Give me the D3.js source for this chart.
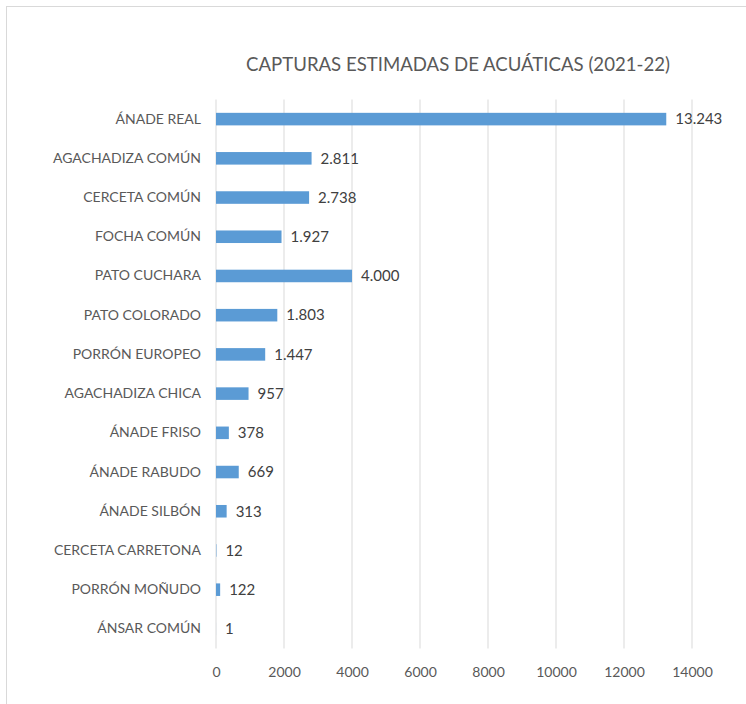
<!DOCTYPE html>
<html><head><meta charset="utf-8">
<script src="https://cdn.jsdelivr.net/npm/d3@7"></script>
<style>body{margin:0;background:#fff;}svg{display:block;}</style>
</head><body>
<svg id="c" width="746" height="704"></svg>
<script>
const categories = ["ÁNADE REAL","AGACHADIZA COMÚN","CERCETA COMÚN","FOCHA COMÚN","PATO CUCHARA","PATO COLORADO","PORRÓN EUROPEO","AGACHADIZA CHICA","ÁNADE FRISO","ÁNADE RABUDO","ÁNADE SILBÓN","CERCETA CARRETONA","PORRÓN MOÑUDO","ÁNSAR COMÚN"];
const values = [13243,2811,2738,1927,4000,1803,1447,957,378,669,313,12,122,1];
const valueLabels = ["13.243","2.811","2.738","1.927","4.000","1.803","1.447","957","378","669","313","12","122","1"];
const xTicks = [0,2000,4000,6000,8000,10000,12000,14000];
const title = "CAPTURAS ESTIMADAS DE ACUÁTICAS (2021-22)";

const svg = d3.select("#c");
const font = "Lato, 'Open Sans', sans-serif";
svg.append("rect").attr("x",6.5).attr("y",6.5).attr("width",760).attr("height",720)
  .attr("fill","#fff").attr("stroke","#d9d9d9");

const x = d3.scaleLinear().domain([0,14000]).range([216,692]);
const y = d3.scaleBand().domain(categories).range([99.5,648.5]).paddingInner(0.68).paddingOuter(0.34);

svg.append("g").selectAll("line").data(xTicks).join("line")
  .attr("x1",d=>x(d)).attr("x2",d=>x(d)).attr("y1",99.5).attr("y2",648.5)
  .attr("stroke","#d9d9d9").attr("stroke-width",1);

const ax = d3.axisBottom(x).tickValues(xTicks).tickSize(0).tickPadding(0).tickFormat(d3.format("d"));
const axg = svg.append("g").attr("transform","translate(0,667)").call(ax);
axg.select(".domain").remove();
axg.selectAll("text").attr("font-family",font).attr("font-size",14).attr("fill","#595959");

const ay = d3.axisLeft(y).tickSize(0).tickPadding(0);
const ayg = svg.append("g").attr("transform","translate(201,0)").call(ay);
ayg.select(".domain").remove();
ayg.selectAll("text").attr("font-family",font).attr("font-size",14).attr("fill","#595959");

svg.append("g").selectAll("rect").data(values).join("rect")
  .attr("x",x(0)).attr("y",(d,i)=>y(categories[i]))
  .attr("width",d=>x(d)-x(0)).attr("height",y.bandwidth()).attr("fill","#5B9BD5");

svg.append("g").selectAll("text").data(values).join("text")
  .attr("x",d=>x(d)+9).attr("y",(d,i)=>y(categories[i])+y.bandwidth()/2)
  .attr("dy","0.35em").attr("font-family",font).attr("font-size",15).attr("fill","#404040")
  .text((d,i)=>valueLabels[i]);

svg.append("text").attr("x",458).attr("y",71).attr("text-anchor","middle")
  .attr("font-family",font).attr("font-size",18.6).attr("fill","#595959").text(title);
</script>
</body></html>
